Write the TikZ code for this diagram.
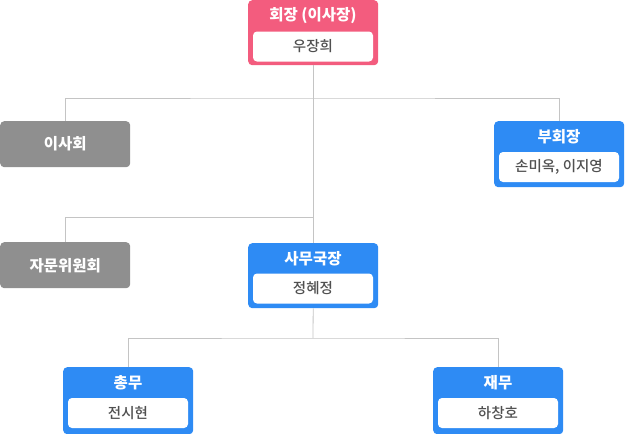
\documentclass[tikz,border=0pt]{standalone}
\usepackage{fontspec}
\setmainfont{Noto Sans CJK KR}
\newfontfamily\krmed{Noto Sans CJK KR}[UprightFont=* Medium]
\definecolor{pinkc}{HTML}{F35C7E}
\definecolor{bluec}{HTML}{2E8BF4}
\definecolor{grayc}{HTML}{8F8F8F}
\definecolor{linec}{HTML}{C4C4C4}
\definecolor{namec}{HTML}{505050}
\begin{document}
\begin{tikzpicture}[x=1pt,y=-1pt,
  box/.style={rounded corners=4pt, minimum width=130pt, inner sep=0pt, anchor=north west},
  titlebox/.style={box, minimum height=65pt},
  graybox/.style={box, fill=grayc, minimum height=46pt, font=\bfseries\fontsize{15.5}{17}\selectfont, text=white},
  inner/.style={fill=white, rounded corners=4pt, minimum width=120pt, minimum height=30pt, inner sep=0pt, font=\krmed\fontsize{14.5}{16}\selectfont, text=namec},
  ttl/.style={text=white, font=\bfseries\fontsize{15.5}{17}\selectfont, inner sep=0pt},
  conn/.style={draw=linec, line width=0.8pt}]
\useasboundingbox (0,0) rectangle (625,434);
% president
\node[titlebox, fill=pinkc] (pres) at (248,0) {};
\node[ttl] (presT) at (313,16) {회장 (이사장)};
\node[inner] (presN) at (313,46.5) {우장희};
% board
\node[graybox] (board) at (0,121) {이사회};
% vice
\node[box, fill=bluec, minimum height=66pt] (vice) at (494,121) {};
\node[ttl] (viceT) at (559,137) {부회장};
\node[inner] (viceN) at (559,167) {손미옥, 이지영};
% advisory
\node[graybox] (adv) at (0,242) {자문위원회};
% secretary general
\node[titlebox, fill=bluec] (sec) at (248,243) {};
\node[ttl] (secT) at (313,259) {사무국장};
\node[inner] (secN) at (313,288.5) {정혜정};
% general affairs
\node[box, fill=bluec, minimum height=67pt] (gen) at (63,367) {};
\node[ttl] (genT) at (128,383) {총무};
\node[inner] (genN) at (128,413) {전시현};
% finance
\node[box, fill=bluec, minimum height=67pt] (fin) at (433,367) {};
\node[ttl] (finT) at (498,383) {재무};
\node[inner] (finN) at (498,413) {하창호};
% junctions
\coordinate (h1) at (313,98);
\coordinate (h2) at (313,217);
\coordinate (h3) at (313,338);
% connectors
\draw[conn] (pres.south) -- (sec.north);
\draw[conn] (board.north) |- (h1) -| (vice.north);
\draw[conn] (adv.north) |- (h2);
\draw[conn] (sec.south) -- (h3);
\draw[conn] (gen.north) |- (h3) -| (fin.north);
\end{tikzpicture}
\end{document}
